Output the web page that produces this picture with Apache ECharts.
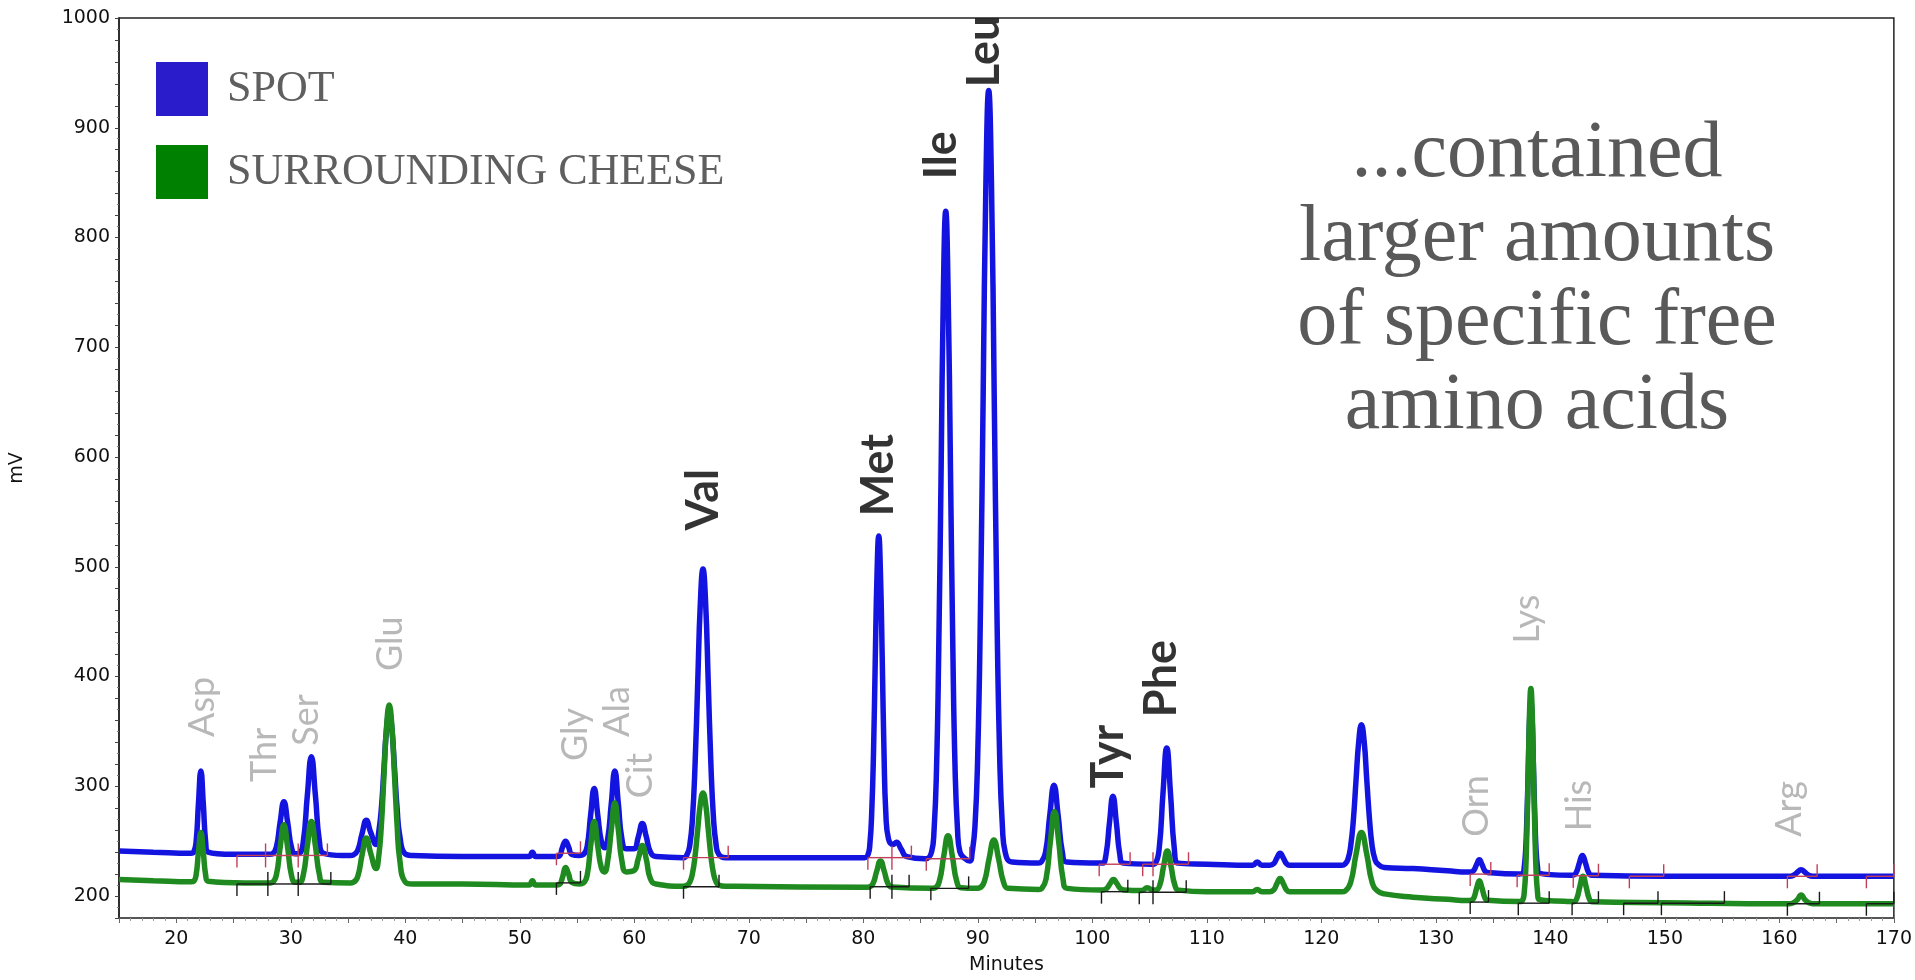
<!DOCTYPE html>
<html>
<head>
<meta charset="utf-8">
<script src="https://cdn.jsdelivr.net/npm/echarts@6/dist/echarts.min.js"></script>
<style>
html,body{margin:0;padding:0;background:#fff;}
#chart{width:1915px;height:980px;}
</style>
</head>
<body>
<div id="chart"></div>
<script>
// Blue trace: SPOT  [minutes, mV]
const spotTrace = [
[15,241],[18,240],[21.3,239],
[21.52,240],[21.73,249],[21.94,284.5],[22.15,314],[22.36,284.5],[22.57,249],[22.78,240],
[25,238],[28.2,238],
[28.41,238.5],[28.74,244.5],[29.07,267],[29.4,286],[29.73,267],[30.06,244.5],[30.39,238.5],
[30.75,239],[31.1,250],[31.45,292],[31.8,327],[32.15,292],[32.5,250],[32.85,239],
[34.5,237],[35.2,237],
[35.46,237.5],[35.84,241.5],[36.22,256.5],[36.6,269],[36.98,258],[37.45,247],
[37.68,258],[37.91,279.5],[38.14,316.5],[38.37,352.6],[38.6,368],[38.83,352.6],[39.06,316.5],[39.29,279.5],[39.52,255],[39.98,238.5],[40.6,237],
[45,236],[50.8,236],[51.1,240],[51.4,236],[53.2,236],
[53.46,236.5],[53.73,244.5],[54.0,250],[54.27,244.5],[54.54,238],[55.2,237],
[55.57,238],[55.88,245],[56.19,274],[56.5,298],[56.81,274],[57.12,250],[57.4,244],
[57.68,252],[57.99,284],[58.3,314],[58.61,284],[58.92,252],[59.3,243],
[59.95,243],[60.35,254],[60.7,266],[61.05,254],[61.4,240.5],[61.9,236],
[64.3,235],
[64.62,238],[64.85,246.5],[65.08,270.5],[65.31,320.4],[65.54,394.5],[65.77,467],[66.0,498],[66.23,467],[66.46,394.5],[66.69,320.4],[66.92,270.5],[67.15,246.5],[67.38,238],[68,235],
[75,235],[80.1,235],
[80.42,238],[80.58,248],[80.73,274.6],[80.89,330],[81.04,412.7],[81.2,493.6],[81.35,528],[81.5,493.6],[81.66,412.7],[81.81,330],[81.97,275],[82.2,252],
[82.6,247],[82.9,249],[83.3,243],[83.8,236],[85.4,234],
[85.97,240.5],[86.18,260],[86.39,314],[86.59,425.6],[86.8,591.8],[87.0,754.7],[87.2,824],[87.4,754.7],[87.61,591.8],[87.82,425.6],[88.02,314],[88.23,260],[88.43,240.5],[88.9,234],[89.3,232],
[89.51,240],[89.75,263],[89.99,327],[90.23,460],[90.47,658],[90.71,851.5],[90.95,934],[91.19,851.5],[91.43,658],[91.67,460],[91.91,327],[92.15,263],[92.39,240],[93.0,231],
[95.3,230],
[95.54,231],[95.91,239.6],[96.28,273],[96.65,301],[97.02,273],[97.39,239.6],[97.76,231],[100.6,230],
[100.9,230],[101.2,238],[101.5,267],[101.8,291],[102.1,267],[102.4,238],[102.7,230],[105.2,229],
[105.51,230],[105.84,243.3],[106.17,293.3],[106.5,335],[106.83,293.3],[107.16,243.3],[107.49,230],[110,229],
[114.0,228],[114.4,231],[114.8,228],[115.5,228],
[115.56,228],[115.84,229.5],[116.12,234.7],[116.4,239],[116.68,234.7],[116.96,229.5],[117.24,228],[121.8,228],
[122.09,229.4],[122.33,233.6],[122.56,245.3],[122.8,269.6],[123.03,305.6],[123.27,341],[123.5,356],[123.74,341],[123.97,305.6],[124.21,269.6],[124.44,245.3],[124.68,233.6],[124.91,229.4],[125.5,226],
[128,225],[131,223],[132.8,222],
[133.08,222],[133.32,223.5],[133.56,228.7],[133.8,233],[134.04,228.5],[134.28,223],[134.52,221.5],[137.3,220],
[137.61,221],[137.72,226.4],[137.84,240.8],[137.95,270.6],[138.07,315],[138.18,358.5],[138.3,377],[138.42,358.5],[138.53,315],[138.65,270.6],[138.76,240.8],[138.88,226.4],[138.99,221],[141.8,219],
[141.99,219],[142.26,221.4],[142.53,230],[142.8,237],[143.07,230],[143.34,221.4],[143.61,219],[150,218],[160.7,218],
[160.91,218],[161.24,219],[161.57,221.6],[161.9,224],[162.23,221.6],[162.56,219],[162.89,218],[170,218]
];

// Green trace: SURROUNDING CHEESE  [minutes, mV]
const cheeseTrace = [
[15,215],[18,214],[21.3,213],
[21.52,213.5],[21.73,219],[21.94,240.3],[22.15,258],[22.36,240.3],[22.57,219],[22.78,213.5],[26,212],[28.2,212],
[28.41,212.5],[28.74,219],[29.07,244],[29.4,265],[29.73,244],[30.06,219],[30.39,212.5],
[30.75,212.5],[31.1,219.6],[31.45,246],[31.8,268],[32.15,246],[32.5,219.6],[32.85,212.5],[35.2,212],
[35.46,212.5],[35.84,217.5],[36.22,237],[36.6,253],[36.98,239],[37.45,225],
[37.68,236],[37.91,264],[38.14,310],[38.37,355],[38.6,374],[38.83,355],[39.06,310],[39.29,264],[39.52,233],[39.98,213],[40.6,211],
[45,211],[50.8,210],[51.1,214],[51.4,210],[53.2,210],
[53.46,210.5],[53.73,217],[54.0,226],[54.27,219.7],[54.54,212.5],[55.2,211],
[55.57,212],[55.88,218.7],[56.19,245.6],[56.5,268],[56.81,245.6],[57.12,226],[57.4,222],
[57.68,232],[57.99,260],[58.3,285],[58.61,260],[58.92,232],[59.3,222],
[59.95,223],[60.35,234],[60.7,246],[61.05,233.5],[61.4,216],[61.9,211],[64.3,209],
[64.62,210],[64.85,212.7],[65.08,220.5],[65.31,236.6],[65.54,260.6],[65.77,284],[66.0,294],[66.23,284],[66.46,260.6],[66.69,236.6],[66.92,220.5],[67.15,212.7],[67.38,210],[68,209],[80.2,208],
[80.51,208.3],[80.84,211.2],[81.17,222.6],[81.5,232],[81.83,222.6],[82.16,211.2],[82.49,208.3],[85.9,207],
[86.26,207.5],[86.64,213.5],[87.02,236],[87.4,255],[87.78,236],[88.16,213.5],[88.54,207.5],[89.8,207],
[90.14,207.5],[90.56,213],[90.98,233.7],[91.4,251],[91.82,233.7],[92.24,213],[92.66,207],[95.3,206],
[95.59,207],[95.96,215.6],[96.33,249],[96.7,277],[97.07,249],[97.44,215.6],[97.81,207],[100.7,205.5],
[100.95,205.5],[101.25,206.8],[101.55,211.3],[101.85,215],[102.15,211.3],[102.45,206.8],[102.75,205.5],[104.3,205],[104.8,207.5],[105.3,205.5],
[105.56,205.4],[105.89,209.9],[106.22,226.8],[106.55,241],[106.88,226.8],[107.21,209.9],[107.54,205.4],[110,204],
[114.0,204],[114.4,206],[114.8,204],[115.5,204],
[115.56,204],[115.84,205.6],[116.12,211.3],[116.4,216],[116.68,211.3],[116.96,205.6],[117.24,204],[121.8,204],
[122.09,204.7],[122.56,212.3],[123.03,238],[123.5,258],[123.97,238],[124.44,212.3],[124.91,204.7],[125.5,202],
[128,199],[131,197],[132.8,196],
[133.08,196.2],[133.32,198.4],[133.56,207],[133.8,214],[134.04,207],[134.28,198.4],[134.52,196.2],[137.3,195],
[137.61,197],[137.72,203.5],[137.84,221.2],[137.95,258],[138.07,312.7],[138.18,366.2],[138.3,389],[138.42,366.2],[138.53,312.7],[138.65,258],[138.76,221.2],[138.88,203.5],[138.99,197],[141.8,195],
[142.04,194.8],[142.31,197.7],[142.58,208.8],[142.85,218],[143.12,208.8],[143.39,197.7],[143.66,194.8],[150,194],[160.7,193],
[160.91,193],[161.24,194],[161.57,196.6],[161.9,201],[162.23,196.6],[162.56,194],[162.89,193],[170,193]
];

// Integration baseline marks: [start min, end min, level mV]
const spotMarks = [
[25.3,27.8,237],[27.8,30.65,237],[30.65,33.2,237],[53.2,55.3,239],[64.3,68.2,235],
[80.4,82.5,235],[82.5,84.2,235],[85.5,89.3,234],
[100.6,103.3,229],[104.4,105.3,229],[105.3,108.4,229],
[133.0,134.8,220],[137.1,139.9,219],[142.0,144.2,218.5],[146.9,149.9,218],[160.7,163.3,218],[167.6,170,218]
];
const cheeseMarks = [
[25.3,28.0,211],[28.0,30.65,211],[30.65,33.5,211],[53.2,55.3,212],[64.3,67.4,208.5],
[80.6,82.5,208.5],[82.5,84.0,208.5],[85.9,89.2,207],
[100.8,103.1,204],[104.1,105.3,203.5],[105.3,108.2,203.5],
[133.0,134.6,194.5],[137.2,139.9,193.5],[141.9,144.2,193.5],[146.4,149.4,193.5],[149.7,155.2,193.5],[160.7,163.5,193],[167.6,170,193]
];

// Peak name labels (anchor = bottom of rotated text, in data units)
const grayNames = ['Asp','Thr','Ser','Glu','Gly','Ala','Cit','Orn','Lys','His','Arg'];
const grayX     = [22.3, 27.7, 31.35, 38.7, 54.9, 58.5, 60.5, 133.5, 138.0, 142.5, 160.9];
const grayY     = [345, 304, 337, 405, 323, 345, 289, 254, 430, 259, 254];

const boldNames = ['Val','Met','Ile','Leu','Tyr','Phe'];
const boldX     = [66.0, 81.35, 86.8, 90.6, 101.4, 106.0];
const boldY     = [533, 546, 853, 937, 298, 363];

const seriesNames = ['SPOT', 'SURROUNDING CHEESE'];
const noteLines = ['...contained', 'larger amounts', 'of specific free', 'amino acids'];

const chart = echarts.init(document.getElementById('chart'), null, {renderer: 'canvas'});

const labelSeries = (names, xs, ys, style) => ({
  type: 'scatter',
  symbolSize: 0,
  silent: true,
  z: 6,
  data: names.map((n, i) => ({name: n, value: [xs[i], ys[i]]})),
  label: Object.assign({
    show: true,
    formatter: p => p.name,
    position: 'inside',
    rotate: 90,
    align: 'left',
    verticalAlign: 'middle'
  }, style)
});

const markSeries = (marks, color) => ({
  type: 'custom',
  silent: true,
  z: 4,
  data: marks,
  encode: {x: [0, 1], y: 2},
  renderItem: (params, api) => {
    const p1 = api.coord([api.value(0), api.value(2)]);
    const p2 = api.coord([api.value(1), api.value(2)]);
    const st = {stroke: color, lineWidth: 1.4};
    return {
      type: 'group',
      children: [
        {type: 'line', shape: {x1: p1[0], y1: p1[1], x2: p2[0], y2: p2[1]}, style: st},
        {type: 'line', shape: {x1: p1[0], y1: p1[1], x2: p1[0], y2: p1[1] + 12}, style: st},
        {type: 'line', shape: {x1: p2[0], y1: p2[1] - 12, x2: p2[0], y2: p2[1]}, style: st}
      ]
    };
  }
});

chart.setOption({
  animation: false,
  backgroundColor: '#ffffff',
  grid: {left: 114, right: 18, top: 18, bottom: 59, show: true, borderColor: '#222', borderWidth: 1.5, backgroundColor: 'transparent'},
  legend: {
    orient: 'vertical',
    left: 156,
    top: 62,
    itemWidth: 52,
    itemHeight: 54,
    itemGap: 29,
    icon: 'rect',
    selectedMode: false,
    padding: 0,
    textStyle: {fontFamily: 'Liberation Serif', fontSize: 44, color: '#5f5f5f', padding: [0, 0, 0, 14]},
    data: [
      {name: seriesNames[0], itemStyle: {color: '#2a1bcb'}},
      {name: seriesNames[1], itemStyle: {color: '#008000'}}
    ]
  },
  xAxis: {
    type: 'value',
    min: 15, max: 170, interval: 5,
    name: 'Minutes',
    nameLocation: 'middle',
    nameGap: 38,
    nameTextStyle: {fontFamily: 'DejaVu Sans', fontSize: 19, color: '#111'},
    axisLine: {show: true, lineStyle: {color: '#555', width: 1.5}},
    axisTick: {show: true, length: 5, lineStyle: {color: '#666'}},
    minorTick: {show: true, splitNumber: 5, length: 3, lineStyle: {color: '#999'}},
    splitLine: {show: false},
    axisLabel: {
      fontFamily: 'DejaVu Sans', fontSize: 19, color: '#111', margin: 12,
      formatter: v => (v % 10 === 0 ? String(v) : '')
    }
  },
  yAxis: {
    type: 'value',
    min: 180, max: 1000, interval: 20,
    name: 'mV',
    nameLocation: 'middle',
    nameGap: 92,
    nameRotate: 90,
    nameTextStyle: {fontFamily: 'DejaVu Sans', fontSize: 19, color: '#111'},
    axisLine: {show: true, lineStyle: {color: '#222', width: 1.5}},
    axisTick: {show: true, length: 4, lineStyle: {color: '#444'}},
    minorTick: {show: true, splitNumber: 2, length: 2, lineStyle: {color: '#777'}},
    splitLine: {show: false},
    axisLabel: {
      fontFamily: 'DejaVu Sans', fontSize: 19, color: '#111', margin: 9,
      formatter: v => (v % 100 === 0 ? String(v) : '')
    }
  },
  series: [
    {
      name: seriesNames[0], type: 'line', data: spotTrace, showSymbol: false, symbol: 'none',
      smooth: 0.5, z: 2,
      lineStyle: {color: '#1414e0', width: 5.5}, itemStyle: {color: '#2a1bcb'}
    },
    {
      name: seriesNames[1], type: 'line', data: cheeseTrace, showSymbol: false, symbol: 'none',
      smooth: 0.5, z: 3,
      lineStyle: {color: '#1f8a1f', width: 5.5}, itemStyle: {color: '#008000'}
    },
    markSeries(spotMarks, '#c0405a'),
    markSeries(cheeseMarks, '#1a1a1a'),
    labelSeries(grayNames, grayX, grayY, {fontFamily: 'Lato', fontSize: 36, color: '#a6a6a6'}),
    labelSeries(boldNames, boldX, boldY, {fontFamily: 'Lato', fontWeight: 'bold', fontSize: 45, color: '#000'})
  ],
  graphic: [{
    type: 'text',
    left: 1537 - 260, top: 113,
    style: {
      text: noteLines.join('\n'),
      x: 0, y: 0,
      width: 520,
      align: 'center',
      textAlign: 'center',
      font: '80px "Liberation Serif"',
      fill: '#595959',
      lineHeight: 84
    }
  }]
});
</script>
</body>
</html>
